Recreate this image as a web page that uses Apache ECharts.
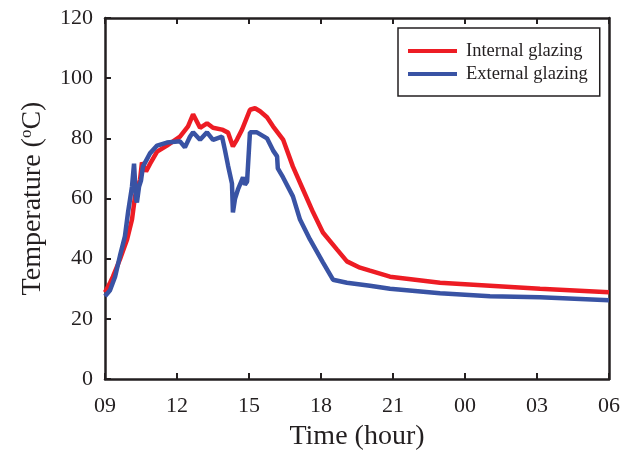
<!DOCTYPE html>
<html>
<head>
<meta charset="utf-8">
<script src="https://cdn.jsdelivr.net/npm/echarts@6/dist/echarts.min.js"></script>
<style>
html,body{margin:0;padding:0;background:#fff;}
#c{width:634px;height:456px;}
</style>
</head>
<body>
<div id="c"></div>
<script>
// hours elapsed since 09:00
const tickLabels = ['09','12','15','18','21','00','03','06'];
const internalHours = [0,0.21,0.33,0.625,0.92,1.125,1.25,1.46,1.54,1.71,1.875,2.17,2.58,3.125,3.46,3.67,3.96,4.25,4.5,4.875,5.125,5.33,5.5,5.71,6.04,6.25,6.46,6.75,7.0,7.42,7.83,8.25,8.67,9.08,9.67,10.08,10.625,11.04,11.875,13.96,16.04,18.125,21];
const internalTemps = [28.8,32,34,39.8,46.4,53,60.7,66.3,72,69,71.5,75.6,77.6,80.6,84,88,83.5,85,83.5,82.9,81.9,77.3,79.6,82.9,89.5,90,89,87,84,79.6,70.6,63,55.4,48.7,43,39.1,37,36,34,32,31,30,28.8];
const externalHours = [0,0.21,0.42,0.625,0.83,0.96,1.125,1.21,1.29,1.33,1.42,1.5,1.58,1.875,2.17,2.58,3.125,3.33,3.54,3.67,3.96,4.25,4.5,4.875,5.0,5.125,5.29,5.33,5.42,5.54,5.75,5.83,5.92,6.04,6.33,6.75,7.0,7.17,7.2,7.42,7.83,8.125,8.54,9.08,9.5,10.08,11.04,11.875,13.96,16.04,18.125,21];
const externalTemps = [27.5,29.5,34,41,47.4,55.4,64,71.6,60,58.7,64,66,70.6,75,77.6,78.6,79,77,80.5,82,79.5,82,79.5,80.6,76,71,65,55.4,60,63,67,64.6,65.6,82,82,80,76,74,70,67,60.7,53,46.4,38.8,33,32,31,30,28.5,27.5,27.2,26.2];

const pair = (hs, ts) => hs.map((h, i) => [h, ts[i]]);
const font = 'Liberation Serif';
const ink = '#231f20';
const chart = echarts.init(document.getElementById('c'), null, {renderer: 'canvas'});
const axisLine = {show: true, onZero: false, lineStyle: {color: ink, width: 2.5}};
const tick = {show: true, inside: true, length: 6, lineStyle: {color: ink, width: 2}};
chart.setOption({
  animation: false,
  backgroundColor: '#fff',
  grid: {left: 105, right: 25, top: 18, bottom: 76, containLabel: false},
  legend: {
    orient: 'vertical', left: 398, top: 28,
    padding: [13, 12, 12, 10],
    borderColor: ink, borderWidth: 1.5,
    itemWidth: 49, itemHeight: 4, itemGap: 3, icon: 'rect',
    textStyle: {fontFamily: font, fontSize: 18.5, color: ink, lineHeight: 20, padding: [0, 0, 0, 4]},
    data: ['Internal glazing', 'External glazing']
  },
  xAxis: [{
    type: 'value', min: 0, max: 21, interval: 3, position: 'bottom',
    name: 'Time (hour)', nameLocation: 'middle', nameGap: 44,
    nameTextStyle: {fontFamily: font, fontSize: 28, color: ink},
    axisLine: axisLine, axisTick: tick, splitLine: {show: false},
    axisLabel: {fontFamily: font, fontSize: 22, color: ink, margin: 16,
      formatter: v => tickLabels[Math.round(v / 3)]}
  }, {
    type: 'value', min: 0, max: 21, interval: 3, position: 'top',
    axisLine: axisLine, axisTick: tick, axisLabel: {show: false}, splitLine: {show: false}
  }],
  yAxis: [{
    type: 'value', min: 0, max: 120, interval: 20, position: 'left',
    name: 'Temperature ({sup|o}C)', nameLocation: 'middle', nameGap: 58,
    nameTextStyle: {fontFamily: font, fontSize: 28, color: ink,
      rich: {sup: {fontFamily: font, fontSize: 17, color: ink, verticalAlign: 'top', padding: [0, 0, 12, 0]}}},
    axisLine: axisLine, axisTick: tick, splitLine: {show: false},
    axisLabel: {fontFamily: font, fontSize: 22, color: ink, margin: 12}
  }, {
    type: 'value', min: 0, max: 120, interval: 20, position: 'right',
    axisLine: axisLine, axisTick: {show: false}, axisLabel: {show: false}, splitLine: {show: false}
  }],
  series: [{
    name: 'Internal glazing', type: 'line', showSymbol: false, symbol: 'none',
    data: pair(internalHours, internalTemps),
    itemStyle: {color: '#ed1c24'},
    lineStyle: {color: '#ed1c24', width: 4.5}
  }, {
    name: 'External glazing', type: 'line', showSymbol: false, symbol: 'none',
    data: pair(externalHours, externalTemps),
    itemStyle: {color: '#3953a4'},
    lineStyle: {color: '#3953a4', width: 4.5}
  }]
});
</script>
</body>
</html>
